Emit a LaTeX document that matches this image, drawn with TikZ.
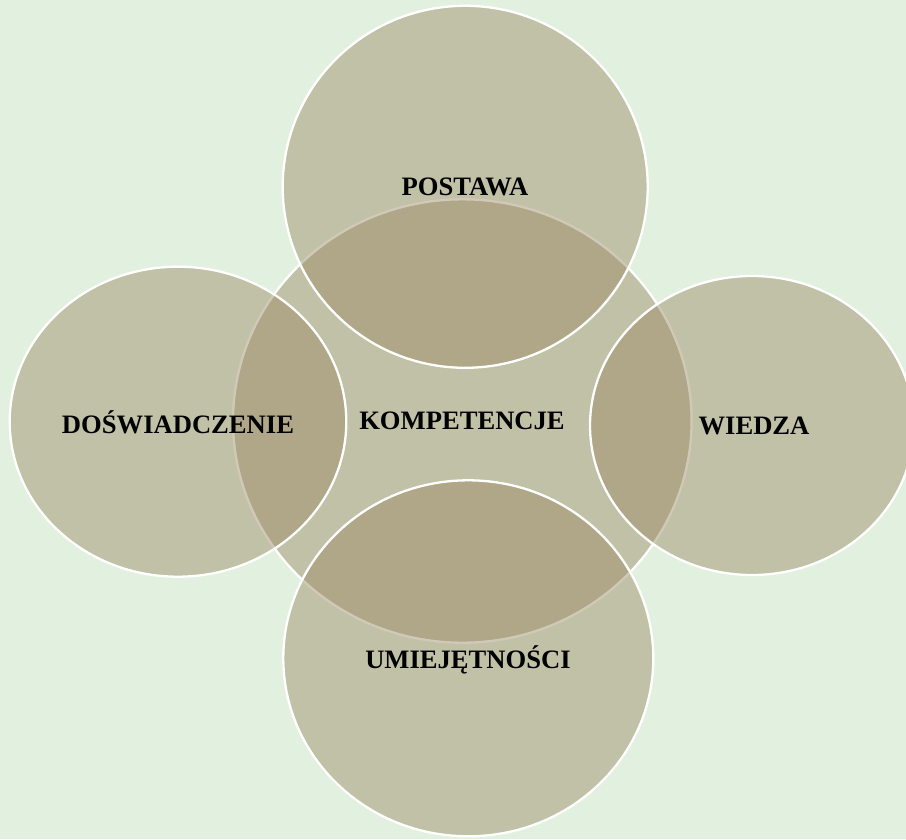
\documentclass[tikz,border=0pt]{standalone}
\usepackage{fontspec}
\setmainfont{Liberation Serif}
\usetikzlibrary{shapes.geometric}
\definecolor{bgc}{RGB}{226,240,223}
\definecolor{discc}{RGB}{155,136,99}
\tikzset{
  disc/.style={ellipse, inner sep=0pt, draw=white, line width=2.3pt, fill=discc, fill opacity=0.45, draw opacity=1},
  lbl/.style={font=\fontsize{26.6}{30}\selectfont\bfseries, text=black, inner sep=0pt}
}
\begin{document}
\begin{tikzpicture}[x=1pt,y=-1pt]
\fill[bgc] (0,0) rectangle (906,839);
\useasboundingbox (0,0) rectangle (906,839);
\clip (0,0) rectangle (906,839);
\node[disc, minimum width=458.6pt, minimum height=443.4pt] (center) at (462.3,421) {};
\node[disc, minimum width=365pt, minimum height=362pt] (top) at (465.2,186.8) {};
\node[disc, minimum width=336.6pt, minimum height=310pt] (left) at (178,421.7) {};
\node[disc, minimum width=324pt, minimum height=299pt] (right) at (752,425.5) {};
\node[disc, minimum width=370pt, minimum height=356pt] (bottom) at (468.3,658.3) {};
\node[lbl] (tcenter) at (462,421) {KOMPETENCJE};
\node[lbl] (ttop) at (465,187) {POSTAWA};
\node[lbl] (tleft) at (178,422) {DOŚWIADCZENIE};
\node[lbl] (tright) at (754,426) {WIEDZA};
\node[lbl] (tbottom) at (468,660) {UMIEJĘTNOŚCI};
\end{tikzpicture}
\end{document}
